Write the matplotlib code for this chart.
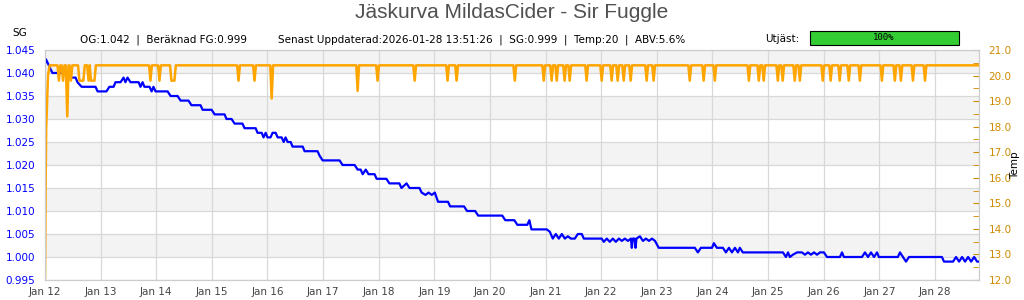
import matplotlib
matplotlib.use('Agg')
import matplotlib.pyplot as plt
import matplotlib.dates as mdates
from matplotlib.patches import Rectangle
from matplotlib.ticker import MultipleLocator, FormatStrFormatter
import pandas as pd

START = pd.Timestamp('2026-01-12 00:00')
END_HOURS = 403.0

# SG readings (hours since Jan 12 00:00, gravity)
sg_hours = [0.0, 0.4, 3.2, 10.6, 11.4, 13.2, 14.0, 15.8, 21.8, 22.7, 26.5, 27.8, 29.6,
            30.4, 32.6, 33.9, 34.7, 35.6, 36.9, 40.4, 41.2, 42.1, 42.9, 45.1, 46.0,
            46.8, 47.7, 52.9, 54.2, 57.2, 58.5, 61.9, 63.2, 67.1, 68.0, 71.9, 73.2,
            77.5, 78.3, 80.5, 81.8, 85.2, 86.1, 90.9, 91.7, 93.5, 94.3, 95.2, 96.0,
            97.3, 98.2, 99.5, 100.4, 102.1, 103.0, 103.8, 104.7, 106.0, 106.8, 111.2,
            112.0, 117.6, 118.5, 119.8, 127.1, 128.4, 133.6, 134.9, 136.2, 137.1,
            138.4, 139.6, 142.2, 143.1, 147.3, 148.6, 152.9, 153.8, 156.0, 157.3,
            161.6, 162.5, 164.2, 165.5, 166.9, 168.2, 169.6, 173.9, 174.8, 180.8,
            182.1, 185.6, 186.9, 197.3, 198.6, 202.5, 203.8, 208.1, 209.0, 209.9,
            216.5, 217.8, 219.1, 220.4, 221.7, 223.0, 224.3, 225.6, 226.9, 228.6,
            229.9, 231.6, 232.5, 240.2, 241.1, 242.4, 243.7, 245.0, 246.3, 247.6,
            248.9, 250.2, 251.5, 252.8, 253.2, 253.6, 254.4, 254.8, 255.2, 256.7,
            258.0, 259.3, 260.6, 261.9, 263.2, 264.8, 280.4, 281.7, 283.0, 287.8,
            288.6, 289.9, 292.5, 293.8, 295.1, 296.4, 297.7, 299.0, 299.8, 301.1,
            318.4, 319.7, 320.6, 321.4, 322.7, 324.5, 326.6, 327.9, 329.2, 330.5,
            331.8, 333.1, 334.4, 336.1, 337.4, 343.0, 343.9, 344.7, 352.5, 353.8,
            355.1, 356.4, 357.7, 359.0, 359.8, 368.0, 368.9, 370.2, 371.5, 372.8,
            387.0, 387.9, 391.8, 393.1, 394.4, 395.7, 397.0, 398.3, 399.6, 400.9,
            402.2, 403.0]
sg_values = [1.042, 1.043, 1.040, 1.040, 1.039, 1.039, 1.038, 1.037, 1.037, 1.036, 1.036,
             1.037, 1.037, 1.038, 1.038, 1.039, 1.038, 1.039, 1.038, 1.038, 1.037, 1.038,
             1.037, 1.037, 1.036, 1.037, 1.036, 1.036, 1.035, 1.035, 1.034, 1.034, 1.033,
             1.033, 1.032, 1.032, 1.031, 1.031, 1.030, 1.030, 1.029, 1.029, 1.028, 1.028,
             1.027, 1.027, 1.026, 1.027, 1.026, 1.026, 1.027, 1.027, 1.026, 1.026, 1.025,
             1.026, 1.025, 1.025, 1.024, 1.024, 1.023, 1.023, 1.022, 1.021, 1.021, 1.020,
             1.020, 1.019, 1.019, 1.018, 1.019, 1.018, 1.018, 1.017, 1.017, 1.016, 1.016,
             1.015, 1.016, 1.015, 1.015, 1.014, 1.0135, 1.014, 1.0135, 1.014, 1.012,
             1.012, 1.011, 1.011, 1.010, 1.010, 1.009, 1.009, 1.008, 1.008, 1.007, 1.007,
             1.008, 1.006, 1.006, 1.0055, 1.004, 1.005, 1.004, 1.005, 1.004, 1.0045,
             1.004, 1.004, 1.005, 1.005, 1.004, 1.004, 1.0033, 1.004, 1.0033, 1.004,
             1.0033, 1.004, 1.0035, 1.004, 1.0035, 1.004, 1.002, 1.004, 1.004, 1.002,
             1.004, 1.0045, 1.0035, 1.004, 1.0035, 1.004, 1.0035, 1.002, 1.002, 1.001,
             1.002, 1.002, 1.003, 1.002, 1.002, 1.001, 1.002, 1.001, 1.002, 1.001, 1.002,
             1.001, 1.001, 1.000, 1.001, 1.000, 1.0005, 1.001, 1.001, 1.0005, 1.001,
             1.0005, 1.001, 1.0005, 1.001, 1.001, 1.000, 1.000, 1.001, 1.000, 1.000,
             1.001, 1.000, 1.001, 1.000, 1.001, 1.000, 1.000, 1.001, 1.000, 0.999, 1.000,
             1.000, 0.999, 0.999, 1.000, 0.999, 1.000, 0.999, 1.000, 0.999, 1.000, 0.999,
             0.999]

# temperature: warm-up at start, then steady level with short dips
temp_start_hours = [0.0, 0.25, 0.5, 1.3, 2.0]
temp_start_values = [12.1, 15.5, 17.9, 20.0, 20.4]
temp_level = 20.4
# (centre hour, bottom width in hours, lowest temp)
temp_dips = [(6.0, 0.0, 19.8), (7.8, 0.0, 19.8), (9.6, 0.0, 18.4), (11.2, 0.0, 19.8),
             (15.7, 1.7, 19.8), (18.8, 0.0, 19.8), (20.6, 1.5, 19.8),
             (45.5, 0.0, 19.8), (49.4, 0.0, 19.8), (55.2, 1.3, 19.8),
             (83.5, 0.0, 19.8), (90.4, 0.0, 19.8), (97.8, 0.0, 19.1),
             (134.9, 0.0, 19.4), (143.5, 0.0, 19.8), (159.5, 0.0, 19.8),
             (173.7, 0.0, 19.8), (177.6, 0.0, 19.8), (202.7, 0.0, 19.8),
             (215.2, 0.0, 19.8), (218.6, 0.0, 19.8), (220.8, 0.0, 19.8),
             (224.2, 0.0, 19.8), (226.4, 0.0, 19.8), (233.7, 0.0, 19.8),
             (240.2, 0.0, 19.8), (244.5, 0.0, 19.8), (247.1, 0.0, 19.8),
             (249.7, 0.0, 19.8), (252.7, 0.0, 19.8), (259.6, 0.0, 19.8),
             (262.6, 0.0, 19.8), (278.2, 0.0, 19.8), (284.2, 0.0, 19.8),
             (289.0, 0.0, 19.8), (303.7, 0.0, 19.8), (308.0, 0.0, 19.8),
             (310.1, 0.0, 19.8), (316.2, 0.0, 19.8), (318.3, 0.0, 19.8),
             (323.5, 0.0, 19.8), (325.7, 0.0, 19.8), (335.6, 0.0, 19.8),
             (339.0, 0.0, 19.8), (342.9, 0.0, 19.8), (346.8, 0.0, 19.8),
             (351.6, 0.0, 19.8), (361.1, 0.0, 19.8), (366.7, 0.0, 19.8),
             (369.3, 0.0, 19.8), (374.5, 0.0, 19.8), (379.7, 0.0, 19.8)]
RAMP = 0.6

temp_hours = list(temp_start_hours)
temp_values = list(temp_start_values)
for c, w, low in temp_dips:
    temp_hours += [c - w / 2 - RAMP, c - w / 2, c + w / 2, c + w / 2 + RAMP]
    temp_values += [temp_level, low, low, temp_level]
temp_hours.append(END_HOURS)
temp_values.append(temp_level)

sg_t = START + pd.to_timedelta(sg_hours, unit='h')
temp_t = START + pd.to_timedelta(temp_hours, unit='h')

TICK_GRAY = '#444444'
TEMP_COL = '#d08a00'

fig = plt.figure(figsize=(10.24, 3.0), dpi=100)
ax = fig.add_axes([45 / 1024, 20 / 300, 934 / 1024, 230 / 300])
ax2 = ax.twinx()

# alternating bands
for lo in [1.000, 1.010, 1.020, 1.030, 1.040]:
    ax.axhspan(lo, lo + 0.005, color='#f3f3f3', zorder=0, lw=0)

ax.plot(sg_t, sg_values, color='#0000ff', lw=1.6, zorder=3)
ax2.plot(temp_t, temp_values, color='#ffa500', lw=1.8)

ax.set_xlim(START, START + pd.Timedelta(hours=END_HOURS))
ax.set_ylim(0.995, 1.045)
ax.yaxis.set_major_locator(MultipleLocator(0.005))
ax.yaxis.set_major_formatter(FormatStrFormatter('%.3f'))
ax.xaxis.set_major_locator(mdates.DayLocator())
ax.xaxis.set_major_formatter(mdates.DateFormatter('%b %d'))
ax.grid(True, color='#d8d8d8', lw=0.9, zorder=1)
ax.set_axisbelow(True)
ax.tick_params(axis='y', length=0, labelcolor='#0000ff', labelsize=7.5, pad=7)
ax.tick_params(axis='x', length=0, labelcolor=TICK_GRAY, labelsize=7.5, pad=5)

ax2.set_ylim(12, 21)
ax2.yaxis.set_major_locator(MultipleLocator(1.0))
ax2.yaxis.set_minor_locator(MultipleLocator(0.5))
ax2.yaxis.set_major_formatter(FormatStrFormatter('%.1f'))
ax2.tick_params(axis='y', which='both', direction='in', color=TEMP_COL, length=4,
                labelcolor=TEMP_COL, labelsize=7.5, pad=7)

for a in (ax, ax2):
    for s in a.spines.values():
        s.set_color('#cccccc')

fig.text(0.5, 0.958, 'Jäskurva MildasCider - Sir Fuggle', ha='center', va='center',
         fontsize=15, family='Liberation Sans', color='#505050')
fig.text(20 / 1024, 1 - 33 / 300, 'SG', ha='center', va='center', fontsize=7.5)
fig.text(80 / 1024, 1 - 40 / 300, 'OG:1.042  |  Beräknad FG:0.999', ha='left', va='center',
         fontsize=7.5)
fig.text(278 / 1024, 1 - 40 / 300,
         'Senast Uppdaterad:2026-01-28 13:51:26  |  SG:0.999  |  Temp:20  |  ABV:5.6%',
         ha='left', va='center', fontsize=7.5)
fig.text(765 / 1024, 1 - 39 / 300, 'Utjäst:', ha='left', va='center', fontsize=7.5)
fig.add_artist(Rectangle((810 / 1024, 1 - 45 / 300), 149 / 1024, 14 / 300,
                         transform=fig.transFigure, facecolor='#33cc33',
                         edgecolor='black', lw=0.8))
fig.text(884 / 1024, 1 - 37.5 / 300, '100%', ha='center', va='center', fontsize=6.5,
         family='DejaVu Sans Mono')
fig.text(1015 / 1024, 1 - 165 / 300, 'Temp', rotation=90, ha='center', va='center',
         fontsize=7.5)

fig.savefig('out.png', dpi=100)
